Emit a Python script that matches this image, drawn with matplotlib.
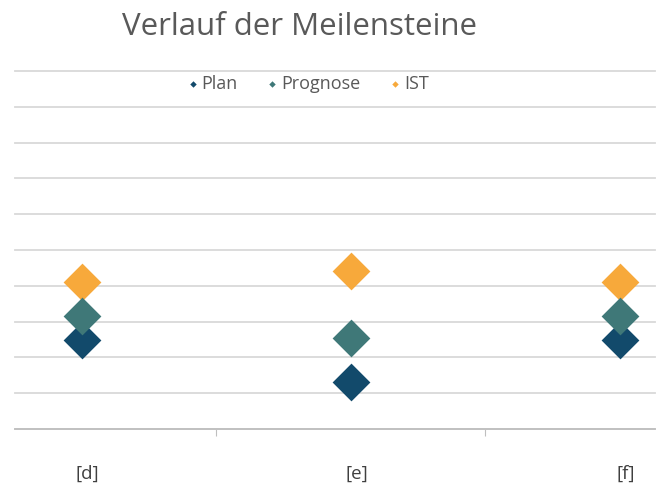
import numpy as np
import matplotlib.pyplot as plt

plt.rcParams['font.family'] = ['Open Sans', 'DejaVu Sans']

kategorien = ['[d]', '[e]', '[f]']
plan = [2.5, 1.3, 2.5]
prognose = [3.15, 2.55, 3.15]
ist = [4.1, 4.4, 4.1]

farben = {'Plan': '#124a6b', 'Prognose': '#3f7878', 'IST': '#f7a93b'}

fig = plt.figure(figsize=(6.57, 4.91), dpi=100)
ax = fig.add_axes([15/657, 1 - 429/491, 640/657, (429 - 71)/491])

x = np.arange(len(kategorien))
ax.scatter(x, plan, marker='D', s=370, color=farben['Plan'], zorder=3, label='Plan', linewidths=0)
ax.scatter(x, prognose, marker='D', s=370, color=farben['Prognose'], zorder=3, label='Prognose', linewidths=0)
ax.scatter(x, ist, marker='D', s=370, color=farben['IST'], zorder=2, label='IST', linewidths=0)

ax.set_ylim(0, 10)
ax.set_yticks(np.arange(0, 11, 1))
ax.set_xlim((15 - 82) / 269, (655 - 82) / 269)
ax.set_xticks([0.5, 1.5])
ax.set_xticklabels([])
ax.tick_params(axis='x', length=5, color='#bfbfbf', direction='out')
ax.tick_params(axis='y', length=0, labelleft=False)
ax.grid(axis='y', color='#d9d9d9', linewidth=1.3)
for gl in ax.get_ygridlines():
    gl.set_clip_on(False)
ax.set_axisbelow(True)
for s in ['top', 'right', 'left']:
    ax.spines[s].set_visible(False)
ax.spines['bottom'].set_color('#bfbfbf')
ax.spines['bottom'].set_linewidth(1.3)

for xi, lab in zip(x, kategorien):
    ax.text(xi + 0.02, -1.25, lab, ha='center', va='center', fontsize=13.5, color='#404040')

fig.text(299/657, 1 - 27/491, 'Verlauf der Meilensteine', ha='center', va='center',
         fontsize=22.5, color='#595959')

leg = ax.legend(loc='center', bbox_to_anchor=(292/640, 1 - (84 - 71)/358), ncol=3,
                frameon=False, fontsize=13, markerscale=0.17, handletextpad=0.1,
                columnspacing=1.5, handlelength=0.8)
for t in leg.get_texts():
    t.set_color('#595959')

fig.savefig('out.png', dpi=100)
